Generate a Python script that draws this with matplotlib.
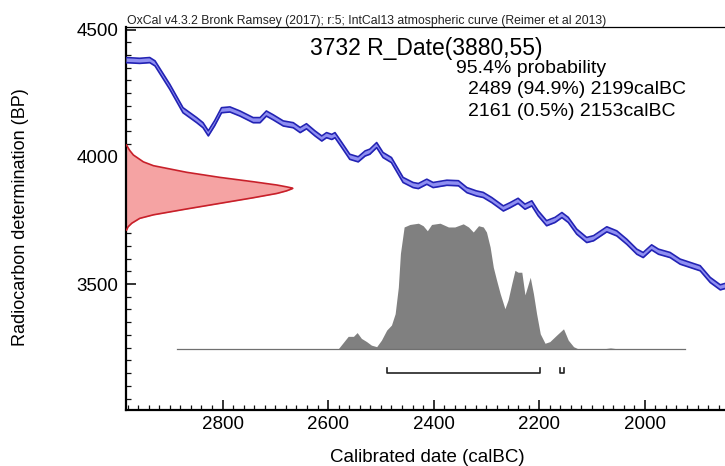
import matplotlib as mpl
import matplotlib.pyplot as plt
import numpy as np
from matplotlib.ticker import MultipleLocator

mpl.use("Agg")
plt.rcParams["font.family"] = ["Liberation Sans", "DejaVu Sans"]

# calibration curve (IntCal13), calBC vs BP
cal_year = [2983, 2957, 2938, 2928, 2900, 2875, 2849, 2837, 2827, 2815,
            2802, 2786, 2767, 2742, 2729, 2717, 2704, 2685, 2666, 2653,
            2641, 2625, 2612, 2603, 2593, 2587, 2574, 2559, 2543, 2530,
            2521, 2508, 2496, 2480, 2458, 2439, 2429, 2413, 2401, 2375,
            2353, 2337, 2319, 2306, 2290, 2268, 2255, 2240, 2227, 2214,
            2202, 2186, 2170, 2157, 2145, 2129, 2110, 2097, 2072, 2053,
            2034, 2015, 2003, 1987, 1974, 1952, 1933, 1914, 1895, 1876,
            1857, 1845]
cal_bp = [4380, 4377, 4380, 4367, 4275, 4183, 4144, 4124, 4092, 4132,
          4183, 4186, 4170, 4144, 4144, 4170, 4155, 4131, 4124, 4105,
          4120, 4092, 4072, 4085, 4078, 4085, 4046, 4000, 3990, 4013,
          4020, 4046, 4007, 3987, 3909, 3889, 3885, 3902, 3889, 3898,
          3896, 3869, 3856, 3850, 3830, 3797, 3810, 3827, 3804, 3817,
          3778, 3739, 3752, 3771, 3752, 3706, 3673, 3680, 3715, 3699,
          3666, 3627, 3614, 3644, 3627, 3614, 3588, 3575, 3562, 3516,
          3487, 3494]
cal_sigma = 10

# R_Date(3880,55) measurement curve: BP and height in years
red_bp = [4046, 4025, 4007, 3980, 3965, 3939, 3919, 3902, 3889, 3882,
          3878, 3876, 3873, 3866, 3856, 3839, 3817, 3795, 3772, 3758,
          3739, 3725, 3712]
red_height = [1, 7, 14, 33, 52, 115, 178, 241, 286, 304,
              313, 316, 313, 304, 286, 241, 178, 115, 52, 26,
              11, 4, 1]

# calibrated probability (relative)
prob_year = [2887, 2581, 2562, 2552, 2545, 2537, 2527, 2518, 2508, 2499,
             2489, 2480, 2473, 2467, 2463, 2456, 2445, 2429, 2420, 2412,
             2404, 2388, 2372, 2360, 2344, 2334, 2325, 2315, 2306, 2300,
             2293, 2287, 2281, 2274, 2265, 2259, 2252, 2246, 2240, 2233,
             2227, 2217, 2211, 2205, 2198, 2189, 2180, 2167, 2154, 2145,
             2135, 2126, 2080, 2065, 2050, 1924]
prob_rel = [0, 0, 0.10, 0.10, 0.13, 0.084, 0.058, 0.03, 0.018, 0.07,
            0.15, 0.19, 0.28, 0.49, 0.76, 0.97, 0.99, 1.0, 0.98, 0.94,
            0.99, 1.0, 0.97, 0.97, 0.995, 0.97, 0.93, 0.98, 0.97, 0.93,
            0.81, 0.65, 0.55, 0.44, 0.32, 0.39, 0.52, 0.625, 0.61, 0.61,
            0.43, 0.57, 0.44, 0.28, 0.12, 0.045, 0.058, 0.11, 0.16, 0.07,
            0.018, 0, 0, 0.008, 0, 0]

# 95.4% ranges
range_start = [2489, 2161]
range_end = [2199, 2153]

XLIM = (2983, 1848)
YLIM = (3005, 4510)
HIST_BASE = 3245
HIST_SCALE = 494
BAR_Y = 3150

W, H = 725, 466
fig = plt.figure(figsize=(W / 100, H / 100), dpi=100)
ax = fig.add_axes([126 / W, 1 - 410 / H, 1 - 126 / W, (410 - 27) / H])

# calibration curve band
cy = np.array(cal_bp)
ax.fill_between(cal_year, cy - cal_sigma, cy + cal_sigma, color="#8f8ff2", lw=0, zorder=3)
ax.plot(cal_year, cy - cal_sigma, color="#2323b4", lw=1.2, zorder=4)
ax.plot(cal_year, cy + cal_sigma, color="#2323b4", lw=1.2, zorder=4)

# measurement (red)
rx = XLIM[0] - np.array(red_height)
ax.fill_betweenx(red_bp, XLIM[0], rx, color="#f5a3a3", lw=0, zorder=2)
ax.plot(rx, red_bp, color="#c8202a", lw=1.2, zorder=3)

# calibrated distribution (gray)
py = HIST_BASE + HIST_SCALE * np.array(prob_rel)
ax.fill_between(prob_year, HIST_BASE, py, color="#808080", lw=0, zorder=2)
ax.plot([prob_year[0], prob_year[-1]], [HIST_BASE, HIST_BASE], color="#707070", lw=0.9, zorder=2)

# range brackets
for s, e in zip(range_start, range_end):
    ax.plot([s, s, e, e], [BAR_Y + 20, BAR_Y, BAR_Y, BAR_Y + 20], color="#222222", lw=1.2, zorder=3)

ax.set_xlim(*XLIM)
ax.set_ylim(*YLIM)
ax.xaxis.set_major_locator(MultipleLocator(200))
ax.xaxis.set_minor_locator(MultipleLocator(20))
ax.yaxis.set_major_locator(MultipleLocator(500))
ax.yaxis.set_minor_locator(MultipleLocator(50))
ax.tick_params(which="both", direction="in", color="#111111", labelsize=13.5)
ax.tick_params(which="major", length=7, width=1.2)
ax.tick_params(which="minor", length=3.5, width=0.9)
ax.tick_params(axis="y", pad=5.5)
ax.tick_params(axis="x", pad=4)
ax.spines["right"].set_visible(False)
ax.spines["left"].set_linewidth(1.6)
ax.spines["bottom"].set_linewidth(1.6)
ax.spines["top"].set_linewidth(0.9)

# texts
fig.text(127 / W, 1 - 24 / H,
         "OxCal v4.3.2 Bronk Ramsey (2017); r:5; IntCal13 atmospheric curve (Reimer et al 2013)",
         fontsize=8.8, va="baseline", ha="left", color="#222222")
fig.text(310 / W, 1 - 54.5 / H, "3732 R_Date(3880,55)", fontsize=16.5, va="baseline", ha="left")
fig.text(456 / W, 1 - 73 / H, "95.4% probability", fontsize=14, va="baseline", ha="left")
fig.text(468 / W, 1 - 94 / H, "2489 (94.9%) 2199calBC", fontsize=14, va="baseline", ha="left")
fig.text(468 / W, 1 - 115.5 / H, "2161 (0.5%) 2153calBC", fontsize=14, va="baseline", ha="left")

fig.text(427 / W, 1 - 461.7 / H, "Calibrated date (calBC)", fontsize=13.5, va="baseline", ha="center")
fig.text(21 / W, 1 - 217 / H, "Radiocarbon determination (BP)", fontsize=13, rotation=90,
         va="center", ha="center")

fig.savefig("out.png", dpi=100, facecolor="white")
